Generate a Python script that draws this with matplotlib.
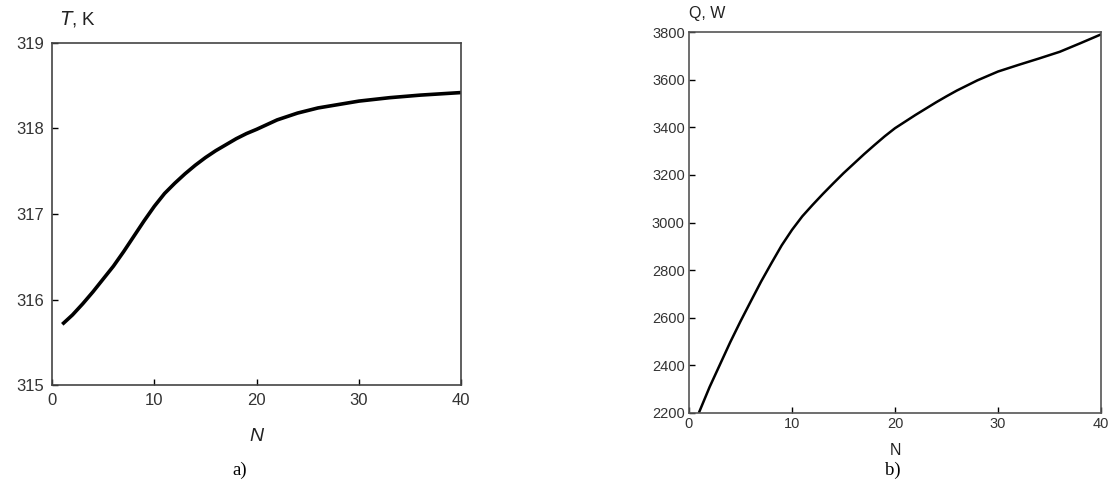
import matplotlib.pyplot as plt
import numpy as np

plt.rcParams['font.family'] = ['Liberation Sans', 'DejaVu Sans']

# panel a) temperature vs number of elements N
n_T = [1, 2, 3, 4, 5, 6, 7, 8, 9, 10, 11, 12, 13, 14, 15, 16, 17, 18, 19, 20,
       22, 24, 26, 28, 30, 33, 36, 40]
T_K = [315.71, 315.82, 315.95, 316.09, 316.24, 316.39, 316.56, 316.74, 316.92,
       317.09, 317.24, 317.36, 317.47, 317.57, 317.66, 317.74, 317.81, 317.88,
       317.94, 317.99, 318.10, 318.18, 318.24, 318.28, 318.32, 318.36, 318.39,
       318.42]

# panel b) heat flow vs number of elements N
n_Q = [1, 2, 3, 4, 5, 6, 7, 8, 9, 10, 11, 12, 13, 14, 15, 16, 17, 18, 19, 20,
       22, 24, 25, 26, 28, 30, 32, 34, 35, 36, 38, 40]
Q_W = [2205, 2309, 2403, 2497, 2585, 2669, 2752, 2829, 2904, 2969, 3026, 3074,
       3120, 3164, 3207, 3247, 3287, 3325, 3362, 3396, 3452, 3505, 3530, 3554,
       3597, 3634, 3662, 3689, 3703, 3717, 3753, 3790]

fig = plt.figure(figsize=(11.12, 4.88), dpi=100)

# ---- a) ----
ax1 = fig.add_axes([0.0468, 0.211, 0.368, 0.701])
ax1.plot(n_T, T_K, color='black', lw=2.6, solid_capstyle='butt')
ax1.set_xlim(0, 40)
ax1.set_ylim(315, 319)
ax1.set_xticks([0, 10, 20, 30, 40])
ax1.set_yticks([315, 316, 317, 318, 319])
ax1.tick_params(direction='in', length=4, width=1, labelsize=12,
                labelcolor='#333333', pad=6)
for s in ax1.spines.values():
    s.set_color('#444444')
    s.set_linewidth(1.2)
ax1.text(0.02, 1.04, '$\\mathit{T}$, K', transform=ax1.transAxes,
         fontsize=13.5, color='#222222', va='bottom')
ax1.text(0.5, -0.125, 'N', style='italic', transform=ax1.transAxes,
         fontsize=14, color='#222222', ha='center', va='top')
fig.text(240 / 1112, 1 - 470 / 488, 'a)', family='Liberation Serif',
         fontsize=13.5, ha='center', va='center')

# ---- b) ----
ax2 = fig.add_axes([0.6196, 0.1537, 0.3705, 0.7807])
ax2.plot(n_Q, Q_W, color='black', lw=1.8)
ax2.set_xlim(0, 40)
ax2.set_ylim(2200, 3800)
ax2.set_xticks([0, 10, 20, 30, 40])
ax2.set_yticks(np.arange(2200, 3801, 200))
ax2.tick_params(direction='in', length=4, width=1, labelsize=10.5,
                labelcolor='#333333', pad=3)
for s in ax2.spines.values():
    s.set_color('#555555')
    s.set_linewidth(1.2)
ax2.text(0.0, 1.03, 'Q, W', transform=ax2.transAxes,
         fontsize=11.5, color='#222222', va='bottom')
ax2.text(0.5, -0.08, 'N', transform=ax2.transAxes,
         fontsize=11.5, color='#222222', ha='center', va='top')
fig.text(893 / 1112, 1 - 470 / 488, 'b)', family='Liberation Serif',
         fontsize=13.5, ha='center', va='center')

fig.savefig('out.png', dpi=100)
